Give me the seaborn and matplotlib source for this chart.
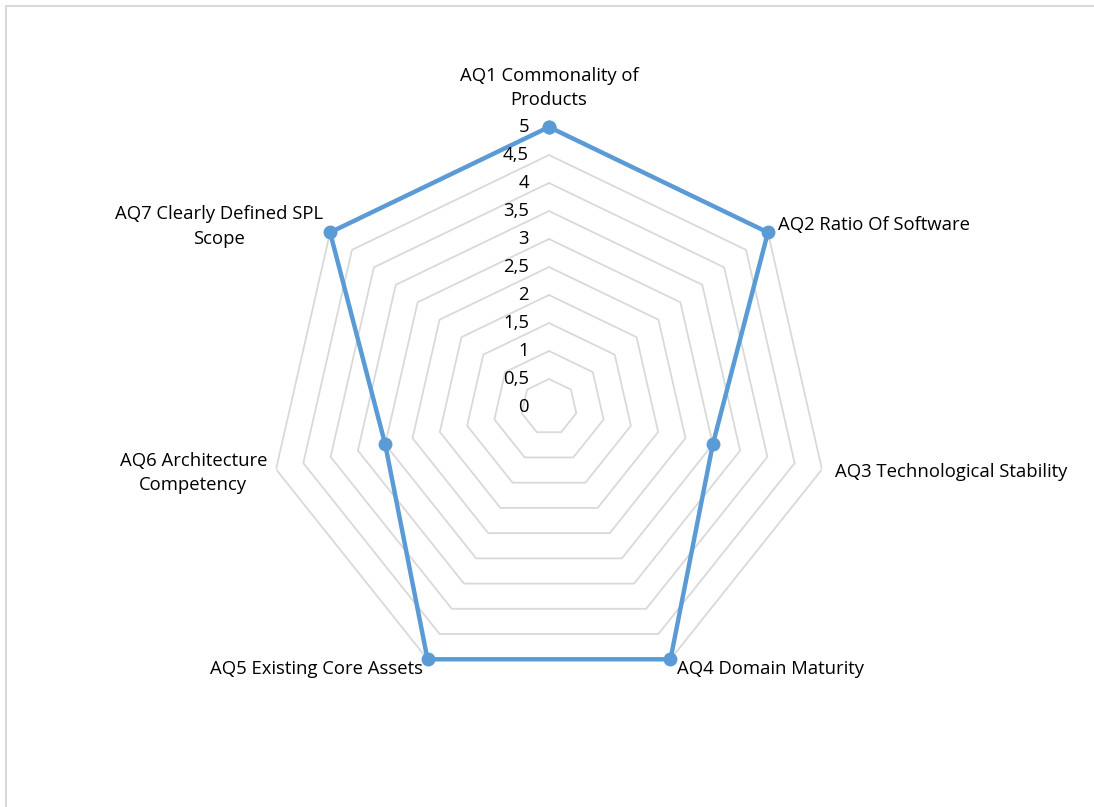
import numpy as np
import matplotlib
matplotlib.use("Agg")
import matplotlib.pyplot as plt
import seaborn as sns
from matplotlib.patches import Rectangle

# data
categories = ["AQ1 Commonality of\nProducts", "AQ2 Ratio Of Software", "AQ3 Technological Stability",
              "AQ4 Domain Maturity", "AQ5 Existing Core Assets", "AQ6 Architecture\nCompetency",
              "AQ7 Clearly Defined SPL\nScope"]
values = [5, 5, 3, 5, 5, 3, 5]
levels = [0, 0.5, 1, 1.5, 2, 2.5, 3, 3.5, 4, 4.5, 5]
level_labels = ["0", "0,5", "1", "1,5", "2", "2,5", "3", "3,5", "4", "4,5", "5"]

sns.set_style("white")
plt.rcParams['font.family'] = ['Open Sans', 'DejaVu Sans']

line_color = "#5B9BD5"
grid_color = "#D9D9D9"
fs = 13.3

n = len(categories)
angles = np.linspace(0, 2 * np.pi, n, endpoint=False)
angles_closed = np.append(angles, angles[0])

fig = plt.figure(figsize=(10.94, 8.07), dpi=100)
# chart area border (only top/left inside the picture)
fig.patches.append(Rectangle((6 / 1094, -0.5), 2.0, 1.5 - 6 / 807, transform=fig.transFigure,
                             fill=False, edgecolor="#D9D9D9", linewidth=1.5))

ax = fig.add_axes([269 / 1094, 120 / 807, 560 / 1094, 560 / 807], projection="polar")
ax.set_theta_offset(np.pi / 2)
ax.set_theta_direction(-1)
ax.set_ylim(0, 5)
ax.grid(False)
ax.spines["polar"].set_visible(False)
ax.set_xticks([])
ax.set_yticks([])

# polygon gridlines
for lv in levels[1:]:
    ax.plot(angles_closed, [lv] * (n + 1), color=grid_color, linewidth=1.3, zorder=1)

# data line
vals_closed = values + values[:1]
ax.plot(angles_closed, vals_closed, color=line_color, linewidth=3.2, zorder=3,
        marker="o", markersize=9, clip_on=False)

# radial tick labels
for lv, lab in zip(levels, level_labels):
    ax.annotate(lab, xy=(0, lv), xytext=(-20, 0), textcoords="offset pixels",
                ha="right", va="center", fontsize=fs, color="#000000")

# category labels
offsets = [(0, 39, "center"), (10, 7, "left"), (13, -3, "left"),
           (7, -10, "left"), (-5, -10, "right"), (-9, -4, "right"),
           (-7, 6, "right")]
for ang, cat, (dx, dy, ha) in zip(angles, categories, offsets):
    ax.annotate(cat, xy=(ang, 5), xytext=(dx, dy), textcoords="offset pixels",
                ha=ha, va="center", multialignment="center", fontsize=fs, color="#000000",
                linespacing=1.45, annotation_clip=False)

fig.savefig("out.png", dpi=100)
